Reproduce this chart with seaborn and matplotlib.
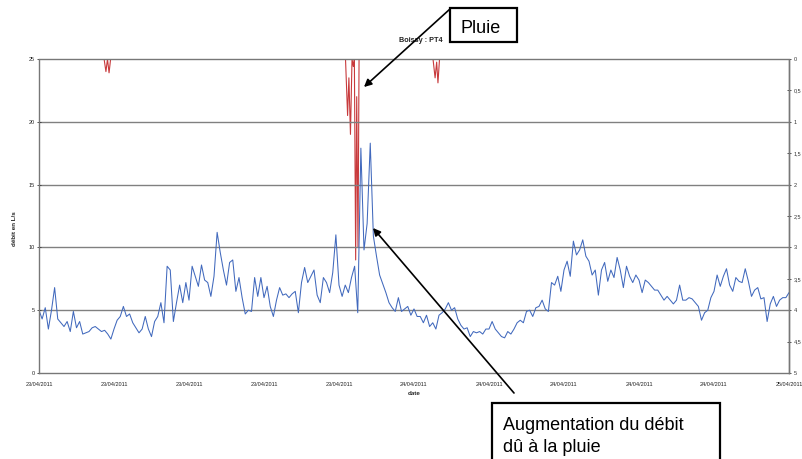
import matplotlib
matplotlib.use("Agg")
import matplotlib.pyplot as plt
import matplotlib.dates as mdates
from matplotlib.patches import Rectangle, FancyArrowPatch
import seaborn as sns
import pandas as pd
import numpy as np

# ---------------- data ----------------
start_time = "2011-04-23 00:00"
end_time = "2011-04-25 00:00"

# flow (L/s), regular 12-minute steps from start_time to end_time
flow_ls = [
    5.0, 4.3, 5.2, 3.5, 5.0, 6.8, 4.3, 4.0, 3.7, 4.1,
    3.3, 4.9, 3.6, 4.1, 3.1, 3.2, 3.3, 3.6, 3.7, 3.5,
    3.3, 3.4, 3.1, 2.7, 3.5, 4.2, 4.5, 5.3, 4.5, 4.7,
    4.0, 3.6, 3.2, 3.5, 4.5, 3.5, 2.9, 4.1, 4.5, 5.6,
    4.0, 8.5, 8.2, 4.1, 5.6, 7.0, 5.6, 7.2, 5.8, 8.5,
    7.7, 6.9, 8.6, 7.4, 7.2, 6.1, 7.7, 11.2, 9.6, 8.2,
    7.0, 8.8, 9.0, 6.5, 7.6, 6.0, 4.7, 5.0, 4.9, 7.6,
    6.1, 7.6, 6.0, 6.9, 5.3, 4.5, 5.8, 6.8, 6.2, 6.3,
    6.0, 6.3, 6.5, 4.8, 7.2, 8.4, 7.2, 7.7, 8.2, 6.2,
    5.6, 7.6, 7.2, 6.4, 8.0, 11.0, 7.0, 6.1, 7.0, 6.4,
    7.6, 8.5, 4.8, 17.9, 9.8, 11.9, 18.3, 10.9, 9.3, 7.8,
    7.1, 6.4, 5.6, 5.2, 4.9, 6.0, 4.9, 5.1, 5.3, 4.6,
    5.1, 4.5, 4.5, 4.0, 4.6, 3.7, 4.0, 3.5, 4.6, 4.8,
    5.1, 5.6, 5.0, 5.2, 4.3, 3.8, 3.5, 3.6, 2.9, 3.3,
    3.2, 3.3, 3.1, 3.5, 3.5, 4.1, 3.5, 3.2, 2.9, 2.8,
    3.3, 3.1, 3.5, 4.0, 4.2, 4.0, 4.9, 5.0, 4.5, 5.2,
    5.3, 5.8, 5.1, 4.9, 7.2, 7.0, 7.7, 6.5, 8.2, 8.9,
    7.7, 10.5, 9.4, 9.8, 10.6, 9.3, 8.9, 7.8, 8.2, 6.2,
    8.2, 8.8, 7.3, 8.2, 7.6, 9.2, 8.2, 6.8, 8.5, 7.7,
    7.2, 7.8, 7.4, 6.4, 7.4, 7.2, 6.9, 6.6, 6.6, 6.2,
    5.8, 6.1, 5.8, 5.5, 5.8, 7.0, 5.8, 5.8, 6.0, 5.9,
    5.6, 5.3, 4.2, 4.8, 5.0, 6.0, 6.5, 7.8, 6.9, 7.7,
    8.3, 7.0, 6.5, 7.6, 7.3, 7.2, 8.3, 7.3, 6.1, 6.6,
    6.8, 5.9, 6.0, 4.1, 5.5, 6.1, 5.3, 5.8, 6.0, 6.0,
    6.4,
]

# rain (mm), three short events
rain_time = [
    "2011-04-23 04:10", "2011-04-23 04:17", "2011-04-23 04:23", "2011-04-23 04:29", "2011-04-23 04:35",
    "2011-04-23 19:37", "2011-04-23 19:45", "2011-04-23 19:50", "2011-04-23 19:56", "2011-04-23 20:02",
    "2011-04-23 20:07", "2011-04-23 20:11", "2011-04-23 20:16", "2011-04-23 20:20", "2011-04-23 20:25",
    "2011-04-23 20:29",
    "2011-04-24 01:13", "2011-04-24 01:21", "2011-04-24 01:27", "2011-04-24 01:32", "2011-04-24 01:38",
]
rain_mm = [
    0, 0.2, 0, 0.22, 0,
    0, 0.9, 0.3, 1.2, 0, 0.12, 0, 3.2, 0.6, 3.0, 0,
    0, 0.3, 0.05, 0.38, 0,
]
rain_event = [1] * 5 + [2] * 11 + [3] * 5

left_ticks = [0, 5, 10, 15, 20, 25]
right_ticks = [0, 0.5, 1, 1.5, 2, 2.5, 3, 3.5, 4, 4.5, 5]
right_tick_labels = ["0", "0,5", "1", "1,5", "2", "2,5", "3", "3,5", "4", "4,5", "5"]

title_text = "Boissy : PT4"
ylabel_text = "débit en L/s"
xlabel_text = "date"
note_rain = "Pluie"
note_flow = ["Augmentation du débit", "dû à la pluie"]

# ---------------- frames ----------------
t0 = pd.Timestamp(start_time)
t1 = pd.Timestamp(end_time)
flow_df = pd.DataFrame({
    "time": pd.date_range(t0, t1, periods=len(flow_ls)),
    "flow": flow_ls,
})
rain_df = pd.DataFrame({
    "time": pd.to_datetime(rain_time),
    "rain": rain_mm,
    "event": rain_event,
})

# ---------------- figure ----------------
sns.set_theme(style="white")
plt.rcParams["font.family"] = ["Liberation Sans", "DejaVu Sans"]

W, H = 802, 459
fig = plt.figure(figsize=(W / 100, H / 100), dpi=100)
fig.patch.set_facecolor("white")

def fx(px):
    return px / W

def fy(py):
    return 1 - py / H

ax = fig.add_axes([fx(39), fy(373), fx(789) - fx(39), fy(59) - fy(373)])

blue = "#4169bd"
red = "#c83a3c"

sns.lineplot(data=flow_df, x="time", y="flow", ax=ax, color=blue,
             linewidth=0.75, estimator=None)
ax.set_xlim(t0, t1)
ax.set_ylim(0, 25)
ax.set_yticks(left_ticks)
ax.set_yticklabels([str(v) for v in left_ticks])

ticks = [t0 + (t1 - t0) * k / 10 for k in range(11)]
ax.set_xticks(ticks)
ax.xaxis.set_major_formatter(mdates.DateFormatter("%d/%m/%Y"))

ax.grid(axis="y", color="#808080", linewidth=1.0, linestyle="-")
ax.grid(axis="x", visible=False)
ax.set_axisbelow(True)

ax.set_xlabel(xlabel_text, fontsize=4.5, fontweight="bold", labelpad=3)
ax.set_ylabel("")
ax.tick_params(axis="both", labelsize=4, length=3, width=0.6,
               direction="inout", colors="#333333")
ax.tick_params(axis="y", pad=1.5)
ax.tick_params(axis="x", pad=5)
ax.tick_params(axis="both", labelcolor="#222222")

for s in ax.spines.values():
    s.set_linestyle((0, (1.2, 1)))
    s.set_color("#777777")
    s.set_linewidth(1.0)

ax2 = ax.twinx()
sns.lineplot(data=rain_df, x="time", y="rain", units="event", estimator=None,
             ax=ax2, color=red, linewidth=0.8, legend=False)
ax2.set_ylim(5, 0)
ax2.set_xlim(t0, t1)
ax2.set_yticks(right_ticks)
ax2.set_yticklabels(right_tick_labels)
ax2.set_ylabel("")
ax2.grid(False)
ax2.tick_params(axis="y", labelsize=4, length=3, width=0.6,
                direction="inout", pad=2, colors="#333333")
for name, s in ax2.spines.items():
    if name == "right":
        s.set_linestyle((0, (1.2, 1)))
        s.set_color("#777777")
        s.set_linewidth(1.0)
    else:
        s.set_visible(False)

# flow drawn above rain
ax.set_zorder(ax2.get_zorder() + 1)
ax.patch.set_visible(False)
ax2.patch.set_visible(True)
ax2.patch.set_facecolor("white")

fig.canvas.draw()
gls = ax.get_ygridlines()
gls[0].set_visible(False)
gls[-1].set_visible(False)

# titles / labels placed as in the reference
fig.text(fx(421), fy(40), title_text, fontsize=5.2, fontweight="bold",
         ha="center", va="center", color="#222222")
fig.text(fx(15), fy(229), ylabel_text, fontsize=4.5, fontweight="bold",
         ha="center", va="center", rotation=90, color="#222222")

# annotation boxes
fig.add_artist(Rectangle((fx(450), fy(42)), fx(517) - fx(450), fy(8) - fy(42),
                         transform=fig.transFigure, facecolor="white",
                         edgecolor="black", linewidth=1.6, zorder=5))
fig.text(fx(460), fy(33), note_rain, fontsize=13, va="baseline", ha="left",
         color="black", zorder=6)

fig.add_artist(Rectangle((fx(492), fy(475)), fx(720) - fx(492), fy(403) - fy(475),
                         transform=fig.transFigure, facecolor="white",
                         edgecolor="black", linewidth=1.6, zorder=5))
fig.text(fx(503), fy(430), note_flow[0], fontsize=13,
         va="baseline", ha="left", color="black", zorder=6)
fig.text(fx(503), fy(452), note_flow[1], fontsize=13,
         va="baseline", ha="left", color="black", zorder=6)

# arrows
fig.add_artist(FancyArrowPatch((fx(450), fy(9)), (fx(364), fy(87)),
                               transform=fig.transFigure, arrowstyle="-|>",
                               mutation_scale=11, linewidth=1.2, color="black",
                               shrinkA=0, shrinkB=0, zorder=7))
fig.add_artist(FancyArrowPatch((fx(514), fy(393)), (fx(373), fy(228)),
                               transform=fig.transFigure, arrowstyle="-|>",
                               mutation_scale=11, linewidth=1.2, color="black",
                               shrinkA=0, shrinkB=0, zorder=7))

fig.savefig("out.png", dpi=100, facecolor="white")
